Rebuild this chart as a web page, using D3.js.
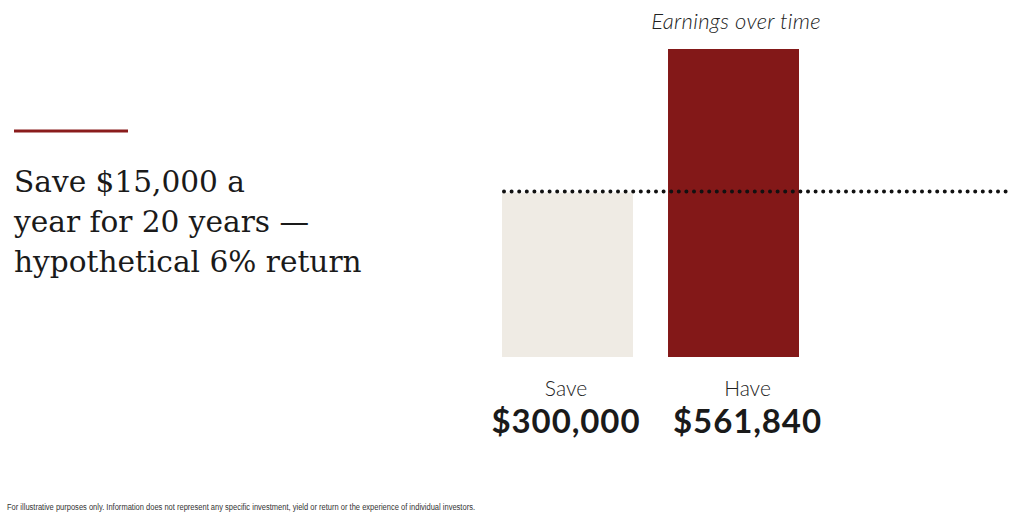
<!DOCTYPE html>
<html><head><meta charset="utf-8">
<script src="https://cdn.jsdelivr.net/npm/d3@7"></script>
<style>body{margin:0;background:#fff}svg{display:block}</style>
</head><body>
<script>
const categories = ["Save", "Have"];
const values = [300000, 561840];
const valueLabels = ["$300,000", "$561,840"];
const colors = ["#efebe4", "#831818"];
const titleLines = ["Save $15,000 a", "year for 20 years —", "hypothetical 6% return"];
const chartTitle = "Earnings over time";
const footnote = "For illustrative purposes only. Information does not represent any specific investment, yield or return or the experience of individual investors.";

const W = 1013, H = 519;
const svg = d3.select("body").append("svg").attr("width", W).attr("height", H);

const x = d3.scaleBand().domain(categories).range([502, 799]).paddingInner(0.211).paddingOuter(0);
const y = d3.scaleLinear().domain([0, 561840]).range([357, 49]);
// label columns sit slightly offset from bar centres in the reference
const labelOffset = [-1.5, 14];

// accent rule
svg.append("rect").attr("x", 14).attr("y", 129.5).attr("width", 114).attr("height", 3).attr("fill", "#8a1c1c");

// title
const t = svg.append("text").attr("font-family", "DejaVu Serif, serif").attr("font-size", 29.6).attr("fill", "#1a1a1a");
titleLines.forEach((l, i) => t.append("tspan").attr("x", 14).attr("y", 192 + i * 40).text(l));

// bars
svg.selectAll("rect.bar").data(values).join("rect").attr("class", "bar")
  .attr("x", (d, i) => x(categories[i])).attr("width", x.bandwidth())
  .attr("y", d => y(d)).attr("height", d => y(0) - y(d))
  .attr("fill", (d, i) => colors[i]);

// dotted reference line at Save value
svg.append("line").attr("x1", 504).attr("x2", 1007).attr("y1", y(values[0]) - 1).attr("y2", y(values[0]) - 1)
  .attr("stroke", "#111").attr("stroke-width", 4).attr("stroke-linecap", "round").attr("stroke-dasharray", "0,7.6");

// chart title
svg.append("text").attr("x", 736).attr("y", 29).attr("text-anchor", "middle")
  .attr("font-family", "Lato, sans-serif").attr("font-style", "italic").attr("font-weight", 300)
  .attr("font-size", 22).attr("letter-spacing", 0.3).attr("fill", "#222").text(chartTitle);

// category labels
categories.forEach((c, i) => {
  const cx = x(c) + x.bandwidth() / 2 + labelOffset[i];
  svg.append("text").attr("x", cx).attr("y", 396).attr("text-anchor", "middle")
    .attr("font-family", "Lato, sans-serif").attr("font-weight", 300).attr("font-size", 21).attr("fill", "#222").text(c);
  svg.append("text").attr("x", cx).attr("y", 433).attr("text-anchor", "middle")
    .attr("font-family", "Lato, sans-serif").attr("font-weight", 700).attr("font-size", 33).attr("letter-spacing", 0.9).attr("fill", "#1a1a1a").text(valueLabels[i]);
});

// footnote
svg.append("text").attr("x", 7).attr("y", 510).attr("font-family", "Liberation Sans Narrow, Liberation Sans, sans-serif")
  .attr("font-size", 8.5).attr("fill", "#333").attr("textLength", 468).attr("lengthAdjust", "spacingAndGlyphs").text(footnote);
</script>
</body></html>
